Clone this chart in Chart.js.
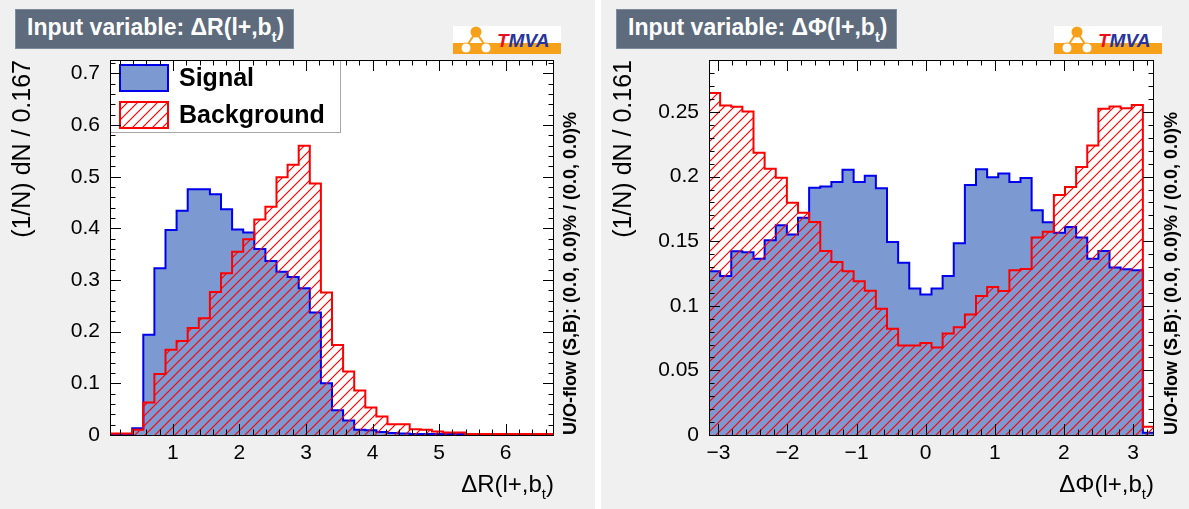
<!DOCTYPE html>
<html>
<head>
<meta charset="utf-8">
<script src="https://cdn.jsdelivr.net/npm/chart.js@4.4.1/dist/chart.umd.min.js"></script>
<style>
  body { margin: 0; width: 1189px; height: 509px; background: #fff; position: relative; overflow: hidden;
         font-family: "Liberation Sans", Arial, sans-serif; }
  .pad { position: absolute; top: 0; height: 509px; background: #f0f0f0; }
  .pad canvas { position: absolute; left: 0; top: 0; }
  .title { position: absolute; left: 15px; top: 9px; height: 40px; box-sizing: border-box; padding: 0 9px 0 11px;
           background: #5d6b7d; border: 1px solid #7d8b9d; color: #fff; font-weight: bold; font-size: 23px;
           line-height: 35px; white-space: nowrap; }
  .title sub, .xt sub { font-size: 62%; vertical-align: -0.5em; line-height: 0; }
  .logo { position: absolute; left: 453px; top: 26px; }
  .uof { position: absolute; left: 560px; top: 435px; transform: rotate(-90deg); transform-origin: 0 0;
         font-weight: bold; font-size: 18px; line-height: 20px; white-space: nowrap; color: #000; }
  .xt { position: absolute; top: 471px; font-size: 24px; line-height: 26px; white-space: nowrap; color: #000; }
</style>
</head>
<body>

<div class="pad" style="left:0;width:595px">
  <canvas id="chartDR" width="595" height="509"></canvas>
  <div class="title">Input variable: &Delta;R(l+,b<sub>t</sub>)</div>
  <svg class="logo" width="108" height="28" viewBox="0 0 108 28">
    <rect x="0" y="0" width="108" height="28" fill="#ffffff"/>
    <rect x="0" y="17" width="108" height="11" fill="#f7a11a"/>
    <path d="M23 6 L13 21 M23 6 L33 21 M13 21 L33 21" stroke="#f7a11a" stroke-width="2"/>
    <circle cx="23" cy="6" r="5.5" fill="#f7a11a"/>
    <circle cx="13" cy="22" r="5" fill="#ffffff" stroke="#f7a11a" stroke-width="1"/>
    <circle cx="33" cy="22" r="5" fill="#ffffff" stroke="#f7a11a" stroke-width="1"/>
    <text x="44" y="21" font-family="Liberation Sans, Arial" font-weight="bold" font-style="italic" font-size="19"><tspan fill="#e8101a">T</tspan><tspan fill="#27349b">MVA</tspan></text>
  </svg>
  <div class="uof">U/O-flow (S,B): (0.0, 0.0)% / (0.0, 0.0)%</div>
  <div class="xt" style="right:41px">&Delta;R(l+,b<sub>t</sub>)</div>
</div>

<div class="pad" style="left:601px;width:588px">
  <canvas id="chartDPhi" width="588" height="509"></canvas>
  <div class="title">Input variable: &Delta;&Phi;(l+,b<sub>t</sub>)</div>
  <svg class="logo" width="108" height="28" viewBox="0 0 108 28">
    <rect x="0" y="0" width="108" height="28" fill="#ffffff"/>
    <rect x="0" y="17" width="108" height="11" fill="#f7a11a"/>
    <path d="M23 6 L13 21 M23 6 L33 21 M13 21 L33 21" stroke="#f7a11a" stroke-width="2"/>
    <circle cx="23" cy="6" r="5.5" fill="#f7a11a"/>
    <circle cx="13" cy="22" r="5" fill="#ffffff" stroke="#f7a11a" stroke-width="1"/>
    <circle cx="33" cy="22" r="5" fill="#ffffff" stroke="#f7a11a" stroke-width="1"/>
    <text x="44" y="21" font-family="Liberation Sans, Arial" font-weight="bold" font-style="italic" font-size="19"><tspan fill="#e8101a">T</tspan><tspan fill="#27349b">MVA</tspan></text>
  </svg>
  <div class="uof">U/O-flow (S,B): (0.0, 0.0)% / (0.0, 0.0)%</div>
  <div class="xt" style="right:35px">&Delta;&Phi;(l+,b<sub>t</sub>)</div>
</div>

<script>
// histogram contents, 40 bins each, normalised (1/N) dN
var drRange = [0.055, 6.727];
var drSignal = [0.002, 0.002, 0.013, 0.194, 0.323, 0.397, 0.434, 0.476, 0.476, 0.466,
                0.437, 0.398, 0.392, 0.360, 0.337, 0.316, 0.306, 0.284, 0.237, 0.100,
                0.048, 0.028, 0.010, 0.009, 0.006, 0.004, 0.003, 0.002, 0.002, 0.002,
                0.002, 0.002, 0.001, 0.001, 0.001, 0.001, 0.001, 0.001, 0.001, 0.001];
var drBackground = [0.003, 0.003, 0.010, 0.063, 0.118, 0.165, 0.182, 0.207, 0.226, 0.277,
                    0.313, 0.355, 0.379, 0.417, 0.442, 0.499, 0.523, 0.560, 0.487, 0.276,
                    0.174, 0.123, 0.086, 0.053, 0.036, 0.021, 0.021, 0.011, 0.010, 0.007,
                    0.005, 0.005, 0.002, 0.002, 0.002, 0.002, 0.002, 0.002, 0.002, 0.002];
var drXTicks = [1, 2, 3, 4, 5, 6];
var drXLabels = ['1', '2', '3', '4', '5', '6'];
var drYTicks = [0, 0.1, 0.2, 0.3, 0.4, 0.5, 0.6, 0.7];
var drYLabels = ['0', '0.1', '0.2', '0.3', '0.4', '0.5', '0.6', '0.7'];

var dphiRange = [-3.136, 3.304];
var dphiSignal = [0.1267, 0.1231, 0.1422, 0.1414, 0.1365, 0.1507, 0.1623, 0.1553, 0.1682, 0.1914,
                  0.1924, 0.1958, 0.2053, 0.1958, 0.2006, 0.1910, 0.1495, 0.1334, 0.1134, 0.1087,
                  0.1134, 0.1231, 0.1484, 0.1935, 0.2058, 0.1996, 0.2025, 0.1958, 0.1990, 0.1739,
                  0.1647, 0.1565, 0.1610, 0.1528, 0.1365, 0.1424, 0.1296, 0.1283, 0.1275, 0.0018];
var dphiBackground = [0.2648, 0.2550, 0.2542, 0.2504, 0.2185, 0.2061, 0.1991, 0.1798, 0.1721, 0.1649,
                      0.1425, 0.1339, 0.1267, 0.1190, 0.1116, 0.0977, 0.0822, 0.0693, 0.0693, 0.0712,
                      0.0678, 0.0786, 0.0834, 0.0933, 0.1077, 0.1146, 0.1115, 0.1275, 0.1285, 0.1528,
                      0.1574, 0.1857, 0.1919, 0.2074, 0.2241, 0.2525, 0.2543, 0.2530, 0.2555, 0.0064];
var dphiXTicks = [-3, -2, -1, 0, 1, 2, 3];
var dphiXLabels = ['\u22123', '\u22122', '\u22121', '0', '1', '2', '3'];
var dphiYTicks = [0, 0.05, 0.1, 0.15, 0.2, 0.25];
var dphiYLabels = ['0', '0.05', '0.1', '0.15', '0.2', '0.25'];

// bin contents -> points for a stepped ('before') outline closed down to zero
function histPoints(vals, range) {
  var w = (range[1] - range[0]) / vals.length;
  var pts = [{x: range[0], y: 0}];
  for (var i = 0; i < vals.length; i++) pts.push({x: range[0] + i * w, y: vals[i]});
  pts.push({x: range[1], y: 0});
  return pts;
}

// red 45 degree hatching, built on the chart's own context
function hatch(context) {
  var chart = context.chart;
  if (!chart.$hatch) {
    var c = document.createElement('canvas');
    c.width = 10; c.height = 10;
    var g = c.getContext('2d');
    g.strokeStyle = '#ff0000';
    g.lineWidth = 1.2;
    g.beginPath();
    g.moveTo(-2, 12); g.lineTo(12, -2);
    g.moveTo(-2, 2); g.lineTo(2, -2);
    g.moveTo(8, 12); g.lineTo(12, 8);
    g.stroke();
    chart.$hatch = chart.ctx.createPattern(c, 'repeat');
  }
  return chart.$hatch;
}

// ROOT look: white frame, inward ticks on all four sides, boxed legend
var rootFrame = {
  id: 'rootFrame',
  beforeDatasetsDraw: function(chart) {
    var a = chart.chartArea, ctx = chart.ctx;
    ctx.save();
    ctx.fillStyle = '#ffffff';
    ctx.fillRect(a.left, a.top, a.right - a.left, a.bottom - a.top);
    ctx.restore();
  },
  afterDatasetsDraw: function(chart, args, opts) {
    var a = chart.chartArea, ctx = chart.ctx;
    var xs = chart.scales.x, ys = chart.scales.y;
    ctx.save();

    if (opts.legend) {
      var lx = a.left, ly = a.top, lw = 231, lh = 73;
      ctx.fillStyle = '#ffffff';
      ctx.fillRect(lx, ly, lw, lh);
      ctx.strokeStyle = '#a8a8a8';
      ctx.lineWidth = 1;
      ctx.strokeRect(lx + 0.5, ly + 0.5, lw - 1, lh - 1);
      ctx.font = 'bold 25px "Liberation Sans", Arial, sans-serif';
      ctx.textBaseline = 'middle';
      chart.data.datasets.forEach(function(ds, i) {
        var o = chart.getDatasetMeta(i).dataset.options;
        var by = ly + 5 + i * 37;
        ctx.fillStyle = o.backgroundColor;
        ctx.fillRect(lx + 10, by, 48, 26);
        ctx.strokeStyle = o.borderColor;
        ctx.lineWidth = 2;
        ctx.strokeRect(lx + 10, by, 48, 26);
        ctx.fillStyle = '#000';
        ctx.fillText(ds.label, lx + 69, by + 14);
      });
    }

    ctx.strokeStyle = '#000';
    ctx.lineWidth = 1;
    ctx.beginPath();
    function ticks(scale, minor, major, horiz) {
      var k0 = Math.ceil(scale.min / minor - 1e-6), k1 = Math.floor(scale.max / minor + 1e-6);
      for (var k = k0; k <= k1; k++) {
        var v = k * minor;
        var r = v / major;
        var len = Math.abs(r - Math.round(r)) < 1e-6 ? 11 : 5.5;
        var p = Math.round(scale.getPixelForValue(v)) + 0.5;
        if (horiz) {
          ctx.moveTo(p, a.bottom); ctx.lineTo(p, a.bottom - len);
          ctx.moveTo(p, a.top); ctx.lineTo(p, a.top + len);
        } else {
          ctx.moveTo(a.left, p); ctx.lineTo(a.left + len, p);
          ctx.moveTo(a.right, p); ctx.lineTo(a.right - len, p);
        }
      }
    }
    ticks(xs, opts.xMinor, opts.xMajor, true);
    ticks(ys, opts.yMinor, opts.yMajor, false);
    ctx.stroke();
    ctx.strokeRect(Math.round(a.left) + 0.5, Math.round(a.top) + 0.5,
                   Math.round(a.right - a.left) - 1, Math.round(a.bottom - a.top));
    ctx.restore();
  }
};

var tickFont = {family: '"Liberation Sans", Arial, sans-serif', size: 21};

function makeChart(id, c) {
  return new Chart(document.getElementById(id), {
    type: 'line',
    data: {
      datasets: [
        {label: 'Signal', data: histPoints(c.sig, c.range), order: 1, fill: 'origin',
         backgroundColor: '#7d99d1', borderColor: '#0000ee'},
        {label: 'Background', data: histPoints(c.bkg, c.range), order: 0, fill: 'origin',
         backgroundColor: hatch, borderColor: '#ff0000'}
      ]
    },
    options: {
      responsive: false,
      animation: false,
      devicePixelRatio: 1,
      layout: {padding: {top: 60, right: c.padRight, left: 0, bottom: 0}},
      elements: {
        line: {stepped: 'before', borderWidth: 2, tension: 0, borderJoinStyle: 'miter'},
        point: {radius: 0, hoverRadius: 0}
      },
      plugins: {
        legend: {display: false},
        tooltip: {enabled: false},
        rootFrame: {legend: c.legend, xMinor: 0.2, xMajor: 1, yMinor: c.yMinor, yMajor: c.yMajor}
      },
      scales: {
        x: {
          type: 'linear', min: c.range[0], max: c.range[1],
          afterFit: function(s) { s.height = 74; },
          afterBuildTicks: function(s) { s.ticks = c.xTicks.map(function(v) { return {value: v}; }); },
          ticks: {callback: function(v, i) { return c.xLabels[i]; }, font: tickFont, color: '#000',
                  padding: 6, maxRotation: 0, autoSkip: false},
          grid: {display: false, drawTicks: false},
          border: {display: false}
        },
        y: {
          type: 'linear', min: 0, max: c.yMax,
          afterFit: function(s) { s.width = c.yWidth; },
          afterBuildTicks: function(s) { s.ticks = c.yTicks.map(function(v) { return {value: v}; }); },
          ticks: {callback: function(v, i) { return c.yLabels[i]; }, font: tickFont, color: '#000',
                  padding: 10, autoSkip: false},
          grid: {display: false, drawTicks: false},
          border: {display: false},
          title: {display: true, text: c.yTitle, align: 'end', color: '#000',
                  font: {family: '"Liberation Sans", Arial, sans-serif', size: 25},
                  padding: {top: 8, bottom: 0}}
        }
      }
    },
    plugins: [rootFrame]
  });
}

makeChart('chartDR', {
  sig: drSignal, bkg: drBackground, range: drRange,
  xTicks: drXTicks, xLabels: drXLabels, yTicks: drYTicks, yLabels: drYLabels,
  yMax: 0.726, yMinor: 0.02, yMajor: 0.1, yTitle: '(1/N) dN / 0.167',
  yWidth: 110, padRight: 41, legend: true
});

makeChart('chartDPhi', {
  sig: dphiSignal, bkg: dphiBackground, range: dphiRange,
  xTicks: dphiXTicks, xLabels: dphiXLabels, yTicks: dphiYTicks, yLabels: dphiYLabels,
  yMax: 0.2903, yMinor: 0.01, yMajor: 0.05, yTitle: '(1/N) dN / 0.161',
  yWidth: 108, padRight: 35, legend: false
});
</script>
</body>
</html>
